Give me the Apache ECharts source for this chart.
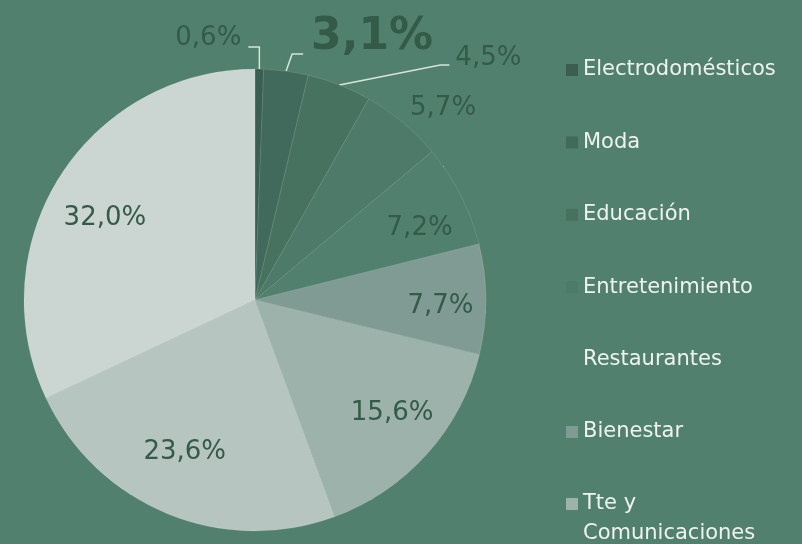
<!DOCTYPE html>
<html>
<head>
<meta charset="utf-8">
<script src="https://cdn.jsdelivr.net/npm/echarts@6/dist/echarts.min.js"></script>
<style>
  html, body { margin: 0; padding: 0; background: #52806f; }
  #main { width: 802px; height: 544px; }
</style>
</head>
<body>
<div id="main"></div>
<script>
// reparto del gasto por categoría (%)
var categorias = ['Electrodomésticos', 'Moda', 'Educación', 'Entretenimiento', 'Restaurantes',
  'Bienestar', 'Tte y Comunicaciones', 'Alimentación', 'Vivienda'];
var valores = [0.6, 3.1, 4.5, 5.7, 7.2, 7.7, 15.6, 23.6, 32.0];
var colores = ['#3b5e52', '#416a5c', '#47725f', '#4d7a69', '#52806f', '#809b93', '#9db2ab', '#b7c5c0', '#cbd6d2'];

var cx = 255, cy = 300;   // centro de la tarta
var textoOscuro = '#345a48';
// pequeño ajuste de las etiquetas interiores (como las coloca PowerPoint)
var ajuste = { 4: [2, 11], 5: [3, 7], 6: [1, -8], 7: [-1, -17], 8: [4, 16] };

var datos = categorias.map(function (n, i) {
  var d = { name: n, value: valores[i], itemStyle: { color: colores[i] } };
  if (i < 4) d.label = { position: 'outside' };
  if (i === 1) { d.label.fontSize = 44; d.label.fontWeight = 'bold'; }
  if (i === 3) d.labelLine = { show: false, length: 16, length2: 0 };
  return d;
});

var estiloLeyenda = {
  color: '#eef3ef',
  fontFamily: 'DejaVu Sans',
  fontSize: 21,
  lineHeight: 30,
  width: 215,
  overflow: 'break'
};

var chart = echarts.init(document.getElementById('main'));
chart.setOption({
  backgroundColor: '#52806f',
  animation: false,
  legend: [{
    orient: 'vertical',
    left: 561,
    top: 50,
    icon: 'rect',
    itemWidth: 12,
    itemHeight: 12,
    itemGap: 42.4,
    itemStyle: { borderWidth: 0 },
    data: categorias.slice(0, 6),
    textStyle: estiloLeyenda
  }, {
    orient: 'vertical',
    left: 561,
    top: 454,
    height: 900,
    icon: 'rect',
    itemWidth: 12,
    itemHeight: 12,
    itemGap: 42.4,
    itemStyle: { borderWidth: 0 },
    data: categorias.slice(6),
    formatter: function (n) { return '\n' + n; },
    textStyle: estiloLeyenda
  }],
  series: [{
    type: 'pie',
    center: [cx, cy],
    radius: 231,
    startAngle: 90,
    avoidLabelOverlap: false,
    itemStyle: { borderColor: 'rgba(255,255,255,0.18)', borderWidth: 0.6 },
    label: {
      position: 'inside',
      color: textoOscuro,
      fontFamily: 'DejaVu Sans',
      fontSize: 26,
      formatter: function (p) { return p.value.toFixed(1).replace('.', ',') + '%'; }
    },
    labelLine: { lineStyle: { color: '#d8e4da', width: 1.5 } },
    labelLayout: function (p) {
      var i = p.dataIndex, pts = p.labelLinePoints, r = p.labelRect, a;
      if (i === 0) {
        a = pts[0];
        return { x: a[0] - 18, y: a[1] - 31, align: 'right', verticalAlign: 'middle',
          labelLinePoints: [a, [a[0], a[1] - 22], [a[0] - 11, a[1] - 22]] };
      }
      if (i === 1) {
        a = pts[0];
        return { x: a[0] + 25, y: a[1] - 34, align: 'left', verticalAlign: 'middle',
          labelLinePoints: [a, [a[0] + 6, a[1] - 17], [a[0] + 17, a[1] - 17]] };
      }
      if (i === 2) {
        a = pts[0];
        return { x: a[0] + 116, y: a[1] - 27, align: 'left', verticalAlign: 'middle',
          labelLinePoints: [a, [a[0] + 101, a[1] - 20], [a[0] + 110, a[1] - 20]] };
      }
      if (i === 3) {
        return { x: r.x - 8, y: r.y + r.height / 2 - 2, align: 'left', verticalAlign: 'middle' };
      }
      var mx = r.x + r.width / 2, my = r.y + r.height / 2;
      var d = ajuste[i];
      return { x: cx + (mx - cx) * 1.54 + d[0], y: cy + (my - cy) * 1.54 + d[1], align: 'center', verticalAlign: 'middle' };
    },
    data: datos
  }]
});
</script>
</body>
</html>
